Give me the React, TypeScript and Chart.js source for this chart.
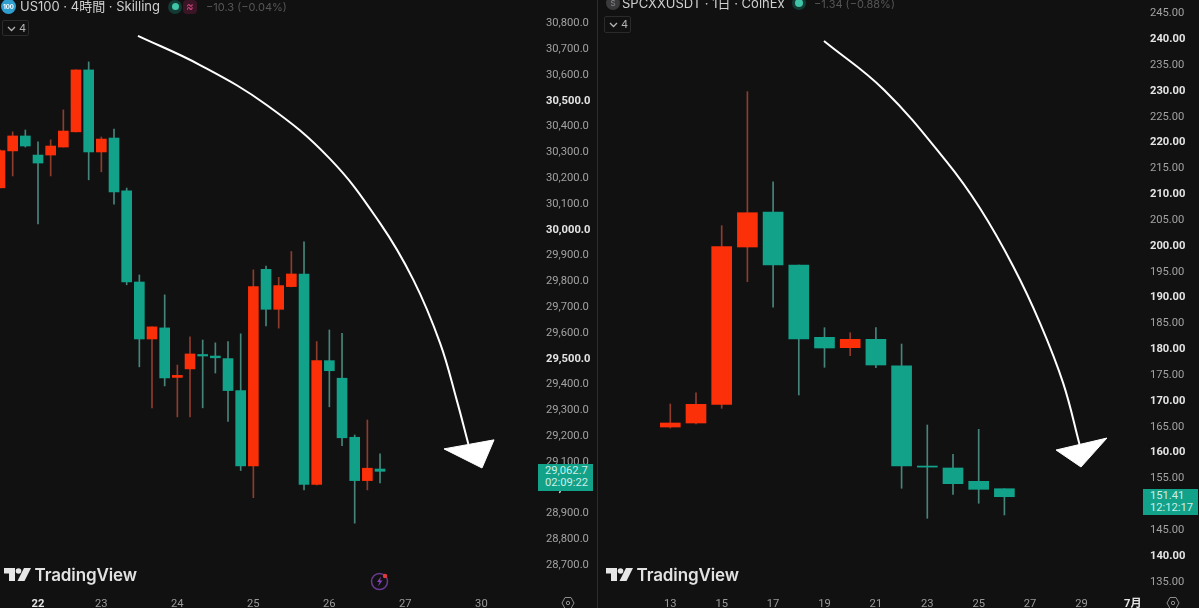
import React, { useEffect, useRef } from "react";
import { Chart, registerables } from "chart.js";

Chart.register(...registerables);

// ---------- US100 4h ----------
const usIndex = [0,1,2,3,4,5,6,7,8,9,10,11,12,13,14,15,16,17,18,19,20,21,22,23,24,25,26,27,28,29,30];
const usOpen = [30159,30302,30360,30286,30286,30317,30376,30616,30298,30352,30147,29794,29573,29616,29424,29457,29513,29507,29497,29373,29081,29843,29688,29776,29825,29009,29489,29421,29192,29024,29069];
const usHigh = [30306,30376,30383,30337,30345,30461,30616,30647,30356,30387,30158,29821,29620,29744,29472,29581,29569,29558,29563,29593,29841,29856,29812,29912,29950,29563,29608,29595,29201,29259,29128];
const usLow = [30159,30205,30317,30019,30205,30317,30376,30190,30221,30096,29783,29465,29306,29391,29271,29271,29306,29441,29253,29063,28958,29624,29615,29775,28988,29007,29310,29159,28859,28988,29015];
const usClose = [30303,30360,30321,30255,30321,30379,30616,30298,30348,30143,29794,29573,29620,29422,29432,29515,29507,29500,29373,29081,29776,29688,29780,29825,29009,29489,29450,29190,29024,29072,29060];
const usYTicks = [28700,28800,28900,29000,29100,29200,29300,29400,29500,29600,29700,29800,29900,30000,30100,30200,30300,30400,30500,30600,30700,30800];
const usXTicks = [3,8,14,20,26,32,38];
const usXLabels = ["22","23","24","25","26","27","30"];
const usArrowX = [10.89,15.79,21.05,26.05,30.0,32.63,34.74,36.05,36.97];
const usArrowY = [30748,30635,30480,30271,30022,29802,29557,29337,29166];
const usHeadX = [35.05,39.0,38.05,35.05];
const usHeadY = [29147,29182,29073,29147];

// ---------- SPCXXUSDT 1D ----------
const spDays = [13,14,15,16,17,18,19,20,21,22,23,24,25,26];
const spOpen = [164.76,165.54,169.16,199.61,206.39,196.13,182.13,180.12,181.74,176.63,157.21,156.83,154.25,152.82];
const spHigh = [169.22,171.40,203.74,229.68,212.25,196.13,183.99,183.02,183.99,180.83,165.15,159.48,164.32,152.82];
const spLow = [164.57,165.34,168.38,192.89,187.94,170.96,176.32,178.57,176.24,152.90,147.09,151.73,150.00,147.73];
const spClose = [165.54,169.16,199.67,206.25,196.13,181.80,180.06,181.74,176.77,157.21,157.00,153.79,152.70,151.27];
const spYTicks = [135,140,145,150,155,160,165,170,175,180,185,190,195,200,205,210,215,220,225,230,235,240,245];
const spXTicks = [13,15,17,19,21,23,25,27,29,31];
const spXLabels = ["13","15","17","19","21","23","25","27","29","7月"];
const spArrowX = [18.98,21.32,23.75,25.05,26.35,27.39,28.29,28.93];
const spArrowY = [239.49,230.01,216.13,207.1,195.8,184.84,173.22,161.28];
const spHeadX = [28.01,29.99,28.98,28.01];
const spHeadY = [160.31,162.63,157.02,160.31];

const BG = "#111112";
const RED = "#fb2f08";
const GREEN = "#12a189";
const RED_WICK = "#8f3c2d";
const GREEN_WICK = "#47857a";
const FONT = "Roboto, 'Noto Sans CJK JP', sans-serif";
const HEAD_FONT = "Inter, 'Noto Sans CJK JP', sans-serif";

type PanelProps = {
  left: number; width: number; axisWidth: number;
  xs: number[]; open: number[]; high: number[]; low: number[]; close: number[];
  xMin: number; xMax: number; yMin: number; yMax: number;
  yTicks: number[]; xTicks: number[]; xLabels: string[];
  fmt: (v: number) => string; isBoldY: (v: number) => boolean; boldX: string;
  bodyW: number;
  arrowX: number[]; arrowY: number[]; headX: number[]; headY: number[];
};

function Panel(p: PanelProps) {
  const ref = useRef<HTMLCanvasElement>(null);
  useEffect(() => {
    const colors = p.xs.map((_, i) => (p.close[i] >= p.open[i] ? RED : GREEN));
    const wicks = p.xs.map((_, i) => (p.close[i] >= p.open[i] ? RED_WICK : GREEN_WICK));
    const isBoldXTick = (c: any) => !!c.tick && p.xLabels[p.xTicks.indexOf(c.tick.value)] === p.boldX;
    const isBoldYTick = (c: any) => !!c.tick && p.isBoldY(c.tick.value);
    const chart = new Chart(ref.current as HTMLCanvasElement, {
      type: "bar",
      data: {
        datasets: [
          {
            type: "line",
            data: p.arrowX.map((x, i) => ({ x, y: p.arrowY[i] })),
            borderColor: "#ffffff", borderWidth: 2, pointRadius: 0, tension: 0.4, fill: false, order: 0,
          },
          {
            type: "line",
            data: p.headX.map((x, i) => ({ x, y: p.headY[i] })),
            borderColor: "#ffffff", backgroundColor: "#ffffff", borderWidth: 1, pointRadius: 0, tension: 0, fill: "shape", order: 0,
          },
          {
            data: p.xs.map((x, i) => ({ x, y: [p.open[i], p.close[i]] })),
            backgroundColor: colors, barThickness: p.bodyW, grouped: false, order: 1,
          },
          {
            data: p.xs.map((x, i) => ({ x, y: [p.low[i], p.high[i]] })),
            backgroundColor: wicks, barThickness: 1, grouped: false, order: 2,
          },
        ],
      } as any,
      options: {
        animation: false, responsive: false, devicePixelRatio: 1,
        layout: { padding: 0 },
        plugins: { legend: { display: false }, tooltip: { enabled: false } },
        scales: {
          x: {
            type: "linear", min: p.xMin, max: p.xMax, offset: false,
            grid: { display: false, drawTicks: false }, border: { display: false },
            afterBuildTicks: (s: any) => { s.ticks = p.xTicks.map((value) => ({ value })); },
            afterFit: (s: any) => { s.height = 18; s.paddingLeft = 0; s.paddingRight = 0; },
            ticks: {
              autoSkip: false, maxRotation: 0, padding: 7,
              callback: (v: any) => p.xLabels[p.xTicks.indexOf(Number(v))] ?? "",
              color: (c: any) => (isBoldXTick(c) ? "#e4e4e4" : "#9a9a9a"),
              font: (c: any) => ({ family: FONT, size: 11.2, weight: isBoldXTick(c) ? "bold" : "normal" }),
            },
          },
          y: {
            type: "linear", position: "right", min: p.yMin, max: p.yMax,
            grid: { display: false, drawTicks: false }, border: { display: false },
            afterBuildTicks: (s: any) => { s.ticks = p.yTicks.map((value) => ({ value })); },
            afterFit: (s: any) => { s.width = p.axisWidth; s.paddingTop = 0; s.paddingBottom = 0; },
            ticks: {
              autoSkip: false, padding: 8, labelOffset: 1,
              callback: (v: any) => p.fmt(Number(v)),
              color: (c: any) => (isBoldYTick(c) ? "#e4e4e4" : "#a2a2a2"),
              font: (c: any) => ({ family: FONT, size: 11.2, weight: isBoldYTick(c) ? "bold" : "normal" }),
            },
          },
        },
      } as any,
    });
    return () => chart.destroy();
  }, []);
  return <canvas ref={ref} width={p.width} height={608} style={{ position: "absolute", left: p.left, top: 0, width: p.width, height: 608, display: "block" }} />;
}

const abs = (left: number, top: number, extra: React.CSSProperties = {}): React.CSSProperties => ({
  position: "absolute", left, top, fontFamily: HEAD_FONT, whiteSpace: "nowrap", ...extra,
});

function Logo({ x, y }: { x: number; y: number }) {
  return (
    <>
      <svg style={{ position: "absolute", left: x, top: y }} width={28} height={14} viewBox="0 0 28 14">
        <path d="M0 0H11V13H5V5.5H0Z" fill="#e6e6e6" />
        <circle cx="14.5" cy="3" r="2.8" fill="#e6e6e6" />
        <path d="M20 0H27L20.5 13H13.5Z" fill="#e6e6e6" />
      </svg>
      <div style={abs(x + 30.5, y - 4, { color: "#e2e2e2", fontSize: 17, fontWeight: 600, lineHeight: "22px", letterSpacing: -0.1 })}>TradingView</div>
    </>
  );
}

function Gear({ x, y }: { x: number; y: number }) {
  return (
    <svg style={{ position: "absolute", left: x - 7, top: y - 7 }} width={14} height={14} viewBox="0 0 14 14">
      <path d="M4 1.5H10L13 7L10 12.5H4L1 7Z" fill="none" stroke="#8e8e8e" strokeWidth="1" />
      <circle cx="7" cy="7" r="1.7" fill="none" stroke="#8e8e8e" strokeWidth="1" />
    </svg>
  );
}

function Chip({ x, y, w, h }: { x: number; y: number; w: number; h: number }) {
  return (
    <div style={abs(x, y, { width: w, height: h, boxSizing: "border-box", border: "1px solid #2b2b2e", borderRadius: 2, color: "#b4b4b4", fontSize: 11, lineHeight: `${h - 2}px` })}>
      <svg style={{ position: "absolute", left: 4, top: 5 }} width={9} height={6} viewBox="0 0 9 6">
        <path d="M1 1L4.5 4.5L8 1" fill="none" stroke="#b4b4b4" strokeWidth="1.3" />
      </svg>
      <span style={{ position: "absolute", left: 16 }}>4</span>
    </div>
  );
}

function PriceTag({ x, y, w, h, a, b }: { x: number; y: number; w: number; h: number; a: string; b: string }) {
  return (
    <div style={{ ...abs(x, y, { width: w, height: h, background: GREEN, color: "#cdeee7", fontSize: 11.2, lineHeight: "12.5px" }), fontFamily: FONT }}>
      <div style={{ position: "absolute", left: 7, top: 1 }}>{a}</div>
      <div style={{ position: "absolute", left: 7, top: 13 }}>{b}</div>
    </div>
  );
}

export default function App() {
  return (
    <div style={{ position: "fixed", left: 0, top: 0, width: 1199, height: 608, overflow: "hidden", background: BG }}>
      <Panel left={0} width={597} axisWidth={59}
        xs={usIndex} open={usOpen} high={usHigh} low={usLow} close={usClose}
        xMin={0} xMax={42.47} yMin={28600} yMax={30887}
        yTicks={usYTicks} xTicks={usXTicks} xLabels={usXLabels}
        fmt={(v) => v.toLocaleString("en-US", { minimumFractionDigits: 1, maximumFractionDigits: 1 })}
        isBoldY={(v) => v % 500 === 0} boldX="22" bodyW={10}
        arrowX={usArrowX} arrowY={usArrowY} headX={usHeadX} headY={usHeadY} />
      <Panel left={598} width={601} axisWidth={57}
        xs={spDays} open={spOpen} high={spHigh} low={spLow} close={spClose}
        xMin={10.187} xMax={31.354} yMin={133.21} yMax={247.43}
        yTicks={spYTicks} xTicks={spXTicks} xLabels={spXLabels}
        fmt={(v) => v.toFixed(2)}
        isBoldY={(v) => v % 10 === 0} boldX="7月" bodyW={20}
        arrowX={spArrowX} arrowY={spArrowY} headX={spHeadX} headY={spHeadY} />
      <div style={{ position: "absolute", left: 597, top: 0, width: 1, height: 608, background: "#2c2c2e" }} />

      {/* left header */}
      <div style={abs(1, -1, { width: 15, height: 15, borderRadius: 8, background: "#2f9fd0", color: "#fff", fontSize: 6, fontWeight: 700, lineHeight: "15px", textAlign: "center" })}>100</div>
      <div style={abs(20, -1, { color: "#d0d0d0", fontSize: 13, lineHeight: "15px" })}>US100 · 4時間 · Skilling</div>
      <div style={abs(168, 0, { width: 14, height: 14, borderRadius: 7, background: "#143a34" })} />
      <div style={abs(172, 3, { width: 7, height: 7, borderRadius: 4, background: "#3fc4a8" })} />
      <div style={abs(183, 0, { width: 14, height: 14, borderRadius: 4, background: "#3a1526", color: "#e04a86", fontSize: 11, lineHeight: "13px", textAlign: "center" })}>≈</div>
      <div style={abs(206, 0, { color: "#565658", fontSize: 11, lineHeight: "14px" })}>−10.3 (−0.04%)</div>
      <Chip x={2} y={20} w={27} h={16} />

      {/* right header */}
      <div style={abs(606, -4, { width: 14, height: 14, borderRadius: 7, background: "#3a3a3c", color: "#8a8a8a", fontSize: 8, lineHeight: "14px", textAlign: "center" })}>S</div>
      <div style={abs(622, -4, { color: "#d0d0d0", fontSize: 13, lineHeight: "15px" })}>SPCXXUSDT · 1日 · CoinEx</div>
      <div style={abs(792, -4, { width: 14, height: 14, borderRadius: 7, background: "#143a34" })} />
      <div style={abs(795, -1, { width: 8, height: 8, borderRadius: 4, background: "#3fc4a8" })} />
      <div style={abs(814, -3, { color: "#565658", fontSize: 11, lineHeight: "14px" })}>−1.34 (−0.88%)</div>
      <Chip x={604} y={16} w={27} h={17} />

      <PriceTag x={538} y={464} w={55} h={27} a="29,062.7" b="02:09:22" />
      <PriceTag x={1143} y={489} w={55} h={26} a="151.41" b="12:12:17" />

      <Logo x={4} y={568} />
      <Logo x={606} y={568} />
      <Gear x={568} y={603} />
      <Gear x={1173} y={603} />

      {/* bolt icon */}
      <svg style={{ position: "absolute", left: 370, top: 571 }} width={20} height={20} viewBox="0 0 20 20">
        <circle cx="9.5" cy="10.5" r="8" fill="none" stroke="#6b3a94" strokeWidth="1.5" />
        <path d="M11 5.5L7 11H9.5L8 15.5L12.5 9.5H10Z" fill="#8a3fc2" />
        <circle cx="15" cy="5" r="2.2" fill="#e23a3a" />
      </svg>
    </div>
  );
}
